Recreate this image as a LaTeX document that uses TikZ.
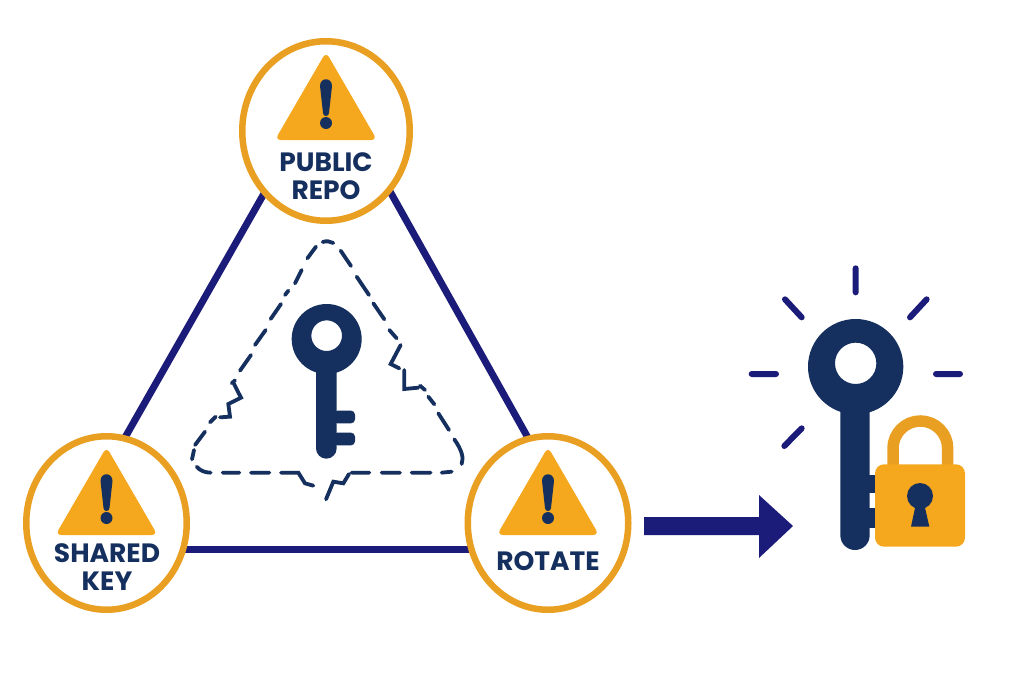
\documentclass[tikz,border=0pt]{standalone}
\usepackage{fontspec}
\setmainfont{Poppins}[BoldFont={Poppins Bold}]
\usetikzlibrary{backgrounds,shapes.geometric}
\definecolor{navy}{HTML}{15305F}
\definecolor{indigo}{HTML}{1B1B7A}
\definecolor{amber}{HTML}{F5A81E}
\definecolor{ringc}{HTML}{E89F22}
\tikzset{
  badge/.style={ellipse,draw=ringc,line width=6.5pt,fill=white,minimum width=160.5pt,minimum height=173.5pt,inner sep=0pt,outer sep=0pt},
  edge/.style={draw=indigo,line width=7pt},
  lbl/.style={text=navy,font=\bfseries\fontsize{26.5}{28}\selectfont,align=center,inner sep=0pt},
  crack/.style={draw=navy,line width=3.8pt,line join=miter,line cap=round},
  ray/.style={draw=indigo,line width=6pt,line cap=round},
}
\newcommand{\warnsign}[2]{%
  \begin{scope}[shift={(#1,#2)}]
    \fill[amber,rounded corners=6pt] (0,-5) -- (51,83) -- (-51,83) -- cycle;
    \fill[navy] (-6,29) .. controls (-6,20) and (6,20) .. (6,29) -- (3,56) .. controls (3,60) and (-3,60) .. (-3,56) -- cycle;
    \fill[navy] (0,66) circle[radius=6];
  \end{scope}}
\begin{document}
\begin{tikzpicture}[x=1pt,y=-1pt]
\useasboundingbox (0,0) rectangle (1024,683);
% badges
\node[badge,minimum width=167.5pt,minimum height=179.5pt] (top) at (326,131) {};
\node[badge] (left) at (106.5,523) {};
\node[badge] (right) at (548,523) {};
\begin{scope}[on background layer]
  \fill[white] (0,0) rectangle (1024,683);
  \draw[edge] (top.225) -- (left.78);
  \draw[edge] (top.-43) -- (right.103);
  \draw[edge] (left.-19) -- (left.-19 -| right.198);
\end{scope}
\warnsign{326}{57}
\warnsign{106.5}{452}
\warnsign{548}{452}
\node[lbl] (t1) at (326,162) {PUBLIC};
\node[lbl] (t2) at (326,190) {REPO};
\node[lbl] (t3) at (107,553) {SHARED};
\node[lbl] (t4) at (107,581) {KEY};
\node[lbl] (t5) at (548,561) {ROTATE};
% cracked dashed triangle and small key, in 3x crop coordinates
\begin{scope}[shift={(170,220)},x=0.33333pt,y=-0.33333pt]
  \draw[crack]
    (458,66) .. controls (470,62) and (480,64) .. (490,69)
    (412,115) -- (438,80) (375,190) -- (395,150) (345,225) -- (355,212)
    (302,297) -- (333,252) (255,375) -- (287,330) (210,452) -- (243,405)
    (185,490) -- (195,481) (192,492) -- (213,533) -- (175,552) -- (180,590) -- (150,592)
    (120,607) -- (137,590) (75,675) -- (105,635) (66,718) -- (72,690)
    (80,740) .. controls (90,752) and (105,758) .. (122,758)
    (158,758) -- (208,758) (243,758) -- (298,758)
    (333,758) -- (385,758) -- (405,790) -- (430,797)
    (468,838) -- (490,785) -- (520,790) -- (537,762)
    (545,758) -- (598,758) (635,758) -- (690,758) (725,758) -- (782,758)
    (815,758) -- (845,755)
    (875,732) .. controls (882,712) and (875,690) .. (853,658)
    (805,580) -- (837,630) (775,530) -- (793,553) (750,497) -- (765,510)
    (703,450) -- (703,507) -- (745,503)
    (692,375) -- (662,432) -- (688,445)
    (658,330) -- (680,355) (610,250) -- (643,298) (560,170) -- (597,225) (512,92) -- (543,138);
  \fill[navy,rounded corners=4pt] (490,572) -- (555,572) -- (555,610) -- (490,610) -- cycle;
  \fill[navy,rounded corners=4pt] (490,638) -- (555,638) -- (555,676) -- (490,676) -- cycle;
  \fill[navy] (438,400) -- (438,685) arc[start angle=180,end angle=0,radius=31] -- (500,400) -- cycle;
  \fill[navy,even odd rule] (470,357) circle[radius=105] (470,347) circle[radius=46];
\end{scope}
% arrow
\fill[indigo] (644,517) -- (759,517) -- (759,495) -- (793,526) -- (759,558) -- (759,535) -- (644,535) -- cycle;
% safe key with lock
\begin{scope}[shift={(740,260)},x=0.33333pt,y=-0.33333pt]
  \draw[ray] (347,25) -- (347,97) (135,118) -- (185,172) (560,118) -- (510,172)
    (35,342) -- (108,342) (588,342) -- (660,342) (185,505) -- (133,558);
  \fill[navy] (380,645) rectangle (410,700);
  \fill[navy] (380,745) rectangle (410,805);
  \fill[navy] (301,400) -- (301,826) arc[start angle=180,end angle=0,radius=44] -- (389,400) -- cycle;
  \fill[navy,even odd rule] (347,320) circle[radius=143] (347,310) circle[radius=62];
  \draw[ringc,line width=11.5pt] (459,625) -- (459,565) arc[start angle=180,end angle=360,radius=82] -- (623,625);
  \fill[amber,rounded corners=9pt] (405,613) rectangle (675,860);
  \fill[navy] (540,708) circle[radius=39];
  \fill[navy] (528,730) -- (552,730) -- (568,800) -- (513,800) -- cycle;
\end{scope}
\end{tikzpicture}
\end{document}
